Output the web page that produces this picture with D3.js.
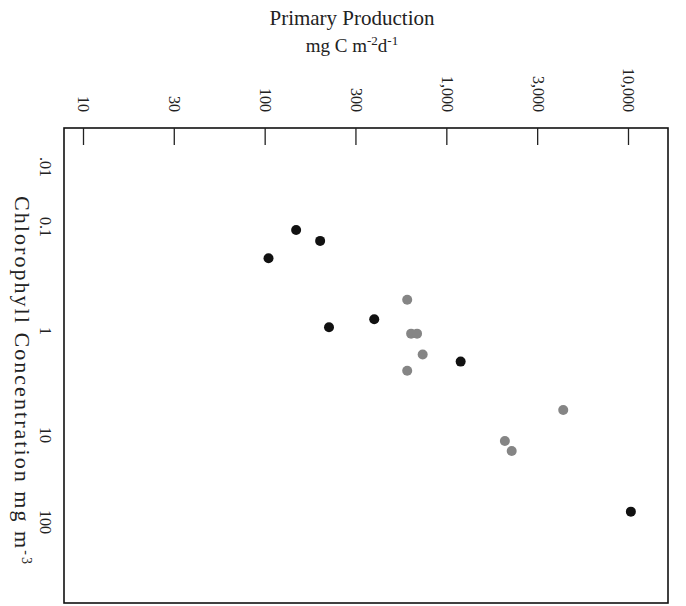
<!DOCTYPE html>
<html>
<head>
<meta charset="utf-8">
<script src="https://cdn.jsdelivr.net/npm/d3@7"></script>
<style>
  body { margin: 0; background: #fff; }
  svg { display: block; }
</style>
</head>
<body>
<div id="chart"></div>
<script>
// primary production axis (half-decade ticks, labelled 30 / 300 / 3,000)
const prodTicks = [10, 31.6, 100, 316, 1000, 3162, 10000];
const prodTickLabels = ["10", "30", "100", "300", "1,000", "3,000", "10,000"];
// chlorophyll axis
const chlTicks = [0.01, 0.1, 1, 10, 100];
const chlTickLabels = [".01", "0.1", "1", "10", "100"];

// black dots
const blackProd = [149, 202, 105, 401, 226, 1199, 10370];
const blackChl  = [0.107, 0.136, 0.20, 0.77, 0.92, 1.97, 76];
// gray dots
const grayProd = [609, 640, 690, 741, 609, 4400, 2100, 2290];
const grayChl  = [0.50, 1.06, 1.06, 1.68, 2.41, 5.75, 11.7, 15.3];

function makeChart() {
    const W = 686, H = 606;
    const frame = {left: 64, top: 128, right: 668, bottom: 603};

    const svg = d3.select("#chart")
        .append("svg")
        .attr("width", W)
        .attr("height", H)
        .style("font-family", "'Liberation Serif', 'DejaVu Serif', serif");

    // x: log, 10 sits at 83px and 10,000 at 628px
    var x = d3.scaleLog()
        .domain([10, 10000])
        .range([83, 628]);

    // y: the printed labels are not evenly spaced, so the scale follows them
    var y = d3.scaleLog()
        .domain(chlTicks)
        .range([167, 227, 331, 435, 522]);

    // frame
    svg.append("rect")
        .attr("x", frame.left)
        .attr("y", frame.top)
        .attr("width", frame.right - frame.left)
        .attr("height", frame.bottom - frame.top)
        .attr("fill", "none")
        .attr("stroke", "#111")
        .attr("stroke-width", 1.6);

    // top axis: ticks point down into the frame, labels turned on their side
    var xAxis = svg.append("g")
        .attr("transform", `translate(0, ${frame.top})`)
        .call(d3.axisTop(x)
            .tickValues(prodTicks)
            .tickSize(-17)
            .tickFormat((d, i) => prodTickLabels[i]));
    xAxis.select(".domain").remove();
    xAxis.selectAll(".tick line")
        .attr("stroke", "#222")
        .attr("stroke-width", 1.3);
    xAxis.selectAll(".tick text")
        .attr("transform", "rotate(90)")
        .attr("x", -16)
        .attr("y", 0)
        .attr("dy", "0.32em")
        .attr("text-anchor", "end")
        .attr("font-size", "16px")
        .attr("font-family", "'Liberation Serif', serif")
        .attr("fill", "#222");

    // left labels, no tick marks
    svg.append("g")
        .selectAll("text")
        .data(chlTicks)
        .join("text")
        .attr("transform", d => `translate(45, ${y(d)}) rotate(90)`)
        .attr("dy", "0.32em")
        .attr("text-anchor", "middle")
        .attr("font-size", "16px")
        .attr("fill", "#222")
        .text((d, i) => chlTickLabels[i]);

    // title
    svg.append("text")
        .attr("x", 352)
        .attr("y", 25)
        .attr("text-anchor", "middle")
        .attr("font-size", "21px")
        .attr("fill", "#222")
        .text("Primary Production");
    var sub = svg.append("text")
        .attr("x", 352)
        .attr("y", 52)
        .attr("text-anchor", "middle")
        .attr("font-size", "19px")
        .attr("fill", "#222");
    sub.append("tspan").text("mg C m");
    sub.append("tspan").attr("dy", -7).attr("font-size", "13px").text("-2");
    sub.append("tspan").attr("dy", 7).text("d");
    sub.append("tspan").attr("dy", -7).attr("font-size", "13px").text("-1");

    // y axis title
    var yTitle = svg.append("text")
        .attr("transform", "translate(15, 380) rotate(90)")
        .attr("text-anchor", "middle")
        .attr("font-size", "22px")
        .attr("fill", "#222")
        .attr("textLength", 368)
        .attr("lengthAdjust", "spacing");
    yTitle.append("tspan").text("Chlorophyll Concentration mg m");
    yTitle.append("tspan").attr("dy", -7).attr("font-size", "14px").text("-3");

    // dots
    var blur = svg.append("defs").append("filter").attr("id", "soft");
    blur.append("feGaussianBlur").attr("stdDeviation", 0.7);

    svg.append("g")
        .selectAll("circle")
        .data(grayProd)
        .join("circle")
        .attr("cx", d => x(d))
        .attr("cy", (d, i) => y(grayChl[i]))
        .attr("r", 5)
        .attr("fill", "#858585")
        .attr("filter", "url(#soft)");

    svg.append("g")
        .selectAll("circle")
        .data(blackProd)
        .join("circle")
        .attr("cx", d => x(d))
        .attr("cy", (d, i) => y(blackChl[i]))
        .attr("r", 5)
        .attr("fill", "#111");
}

makeChart();
</script>
</body>
</html>
